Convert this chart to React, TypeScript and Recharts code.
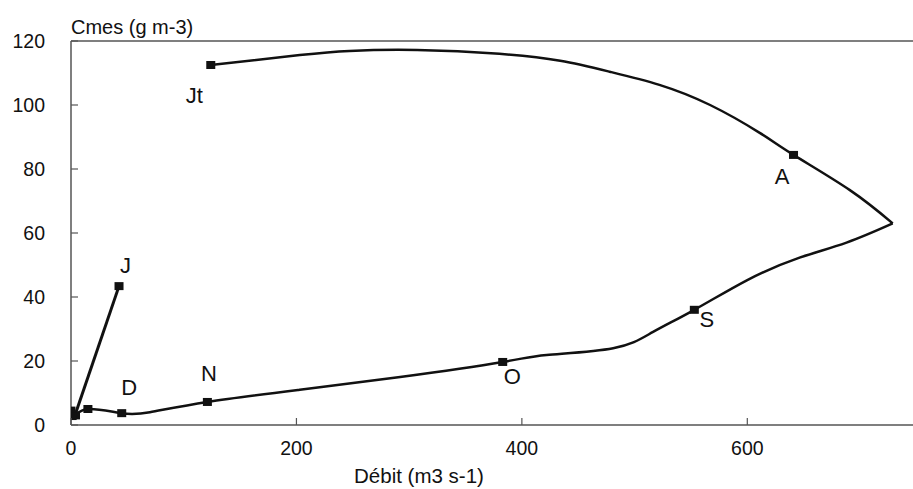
import { ComposedChart, Line, Scatter, XAxis, YAxis, ReferenceLine, LabelList, Label } from 'recharts';

// upper branch: Jt -> A -> turning point
const riseX = [124, 203, 247, 307, 380, 434, 478, 522, 567, 611, 641, 691, 729];
const riseY = [112.5, 115.6, 116.9, 117.2, 116, 113.8, 110.4, 106.3, 100, 91.3, 84.4, 73.4, 63];

// lower branch: turning point -> S -> O -> N -> D -> origin
const fallX = [729, 688, 644, 600, 553, 516, 481, 422, 383, 292, 203, 121, 70, 45, 15, 4, 0];
const fallY = [63, 57, 52, 45.3, 36, 29, 24, 21.9, 19.7, 15, 11, 7.2, 4, 3.7, 5, 3, 4.5];

// january rise
const janX = [3, 42.6];
const janY = [2.5, 43.4];

const markName = ['Jt', 'A', 'S', 'O', 'N', 'D', '', '', '', '', 'J'];
const markX = [124, 641, 553, 383, 121, 45, 15, 4, 0, 1, 42.6];
const markY = [112.5, 84.4, 36, 19.7, 7.2, 3.7, 5, 3, 4.5, 2.8, 43.4];

const xTicks = [0, 200, 400, 600];
const yTicks = [0, 20, 40, 60, 80, 100, 120];

const zip = (xs: number[], ys: number[]) => xs.map((x, i) => ({ x, y: ys[i] }));
const rise = zip(riseX, riseY);
const fall = zip(fallX, fallY);
const jan = zip(janX, janY);
const marks = markX.map((x, i) => ({ x, y: markY[i], name: markName[i] }));

// where each month label sits relative to its marker
const labelShift: Record<string, [number, number]> = {
  Jt: [-12, 35],
  A: [-7, 26],
  S: [17, 14],
  O: [14, 19],
  N: [6, -24],
  D: [12, -21],
  J: [11, -16],
};

const font = '"Liberation Sans", Arial, sans-serif';
const ink = '#111';
const axisGrey = '#555';

const YTick = (props: any) => {
  const { x, y, payload } = props;
  return (
    <g>
      <line x1={x} x2={x + 7} y1={y} y2={y} stroke={axisGrey} strokeWidth={1.2} />
      <text x={x - 26} y={y} textAnchor="end" dominantBaseline="central" fontSize={19.5} fill={ink} fontFamily={font}>
        {payload.value}
      </text>
    </g>
  );
};

const XTick = (props: any) => {
  const { x, y, payload } = props;
  return (
    <g>
      <line x1={x} x2={x} y1={y} y2={y - 7} stroke={axisGrey} strokeWidth={1.2} />
      <text x={x} y={y + 23} textAnchor="middle" dominantBaseline="central" fontSize={19.5} fill={ink} fontFamily={font}>
        {payload.value}
      </text>
    </g>
  );
};

const Square = (props: any) => {
  const { cx, cy } = props;
  return <rect x={cx - 4.5} y={cy - 4} width={9} height={8} fill={ink} />;
};

const MonthLabel = (props: any) => {
  const { x, y, value } = props;
  if (!value) return null;
  const [dx, dy] = labelShift[value] || [0, 0];
  return (
    <text x={x + dx} y={y + dy} textAnchor="middle" dominantBaseline="central" fontSize={22} fill={ink} fontFamily={font}>
      {value}
    </text>
  );
};

export default function App() {
  return (
    <div style={{ position: 'absolute', left: 0, top: 0, background: '#fff' }}>
      <ComposedChart width={913} height={489} margin={{ top: 41, right: 0, bottom: 0, left: 0 }}>
        <XAxis
          type="number"
          dataKey="x"
          domain={[0, 747]}
          allowDataOverflow
          ticks={xTicks}
          height={64}
          tickSize={0}
          tickMargin={0}
          tick={<XTick />}
          axisLine={{ stroke: axisGrey, strokeWidth: 1.5 }}
          tickLine={false}
        >
          <Label
            content={() => (
              <text x={419} y={475} textAnchor="middle" dominantBaseline="central" fontSize={20.5} fill={ink} fontFamily={font}>
                Débit (m3 s-1)
              </text>
            )}
          />
        </XAxis>
        <YAxis
          type="number"
          dataKey="y"
          domain={[0, 120]}
          ticks={yTicks}
          width={71}
          tickSize={0}
          tickMargin={0}
          tick={<YTick />}
          axisLine={{ stroke: axisGrey, strokeWidth: 1.5 }}
          tickLine={false}
        >
          <Label
            content={() => (
              <text x={71} y={27} textAnchor="start" dominantBaseline="central" fontSize={20} fill={ink} fontFamily={font}>
                Cmes (g m-3)
              </text>
            )}
          />
        </YAxis>
        <ReferenceLine y={120} stroke={axisGrey} strokeWidth={1.5} />
        <Line data={rise} dataKey="y" type="natural" stroke={ink} strokeWidth={2.5} dot={false} isAnimationActive={false} />
        <Line data={fall} dataKey="y" type="natural" stroke={ink} strokeWidth={2.5} dot={false} isAnimationActive={false} />
        <Line data={jan} dataKey="y" type="linear" stroke={ink} strokeWidth={3} dot={false} isAnimationActive={false} />
        <Scatter data={marks} dataKey="y" shape={<Square />} isAnimationActive={false}>
          <LabelList dataKey="name" content={<MonthLabel />} />
        </Scatter>
      </ComposedChart>
    </div>
  );
}
